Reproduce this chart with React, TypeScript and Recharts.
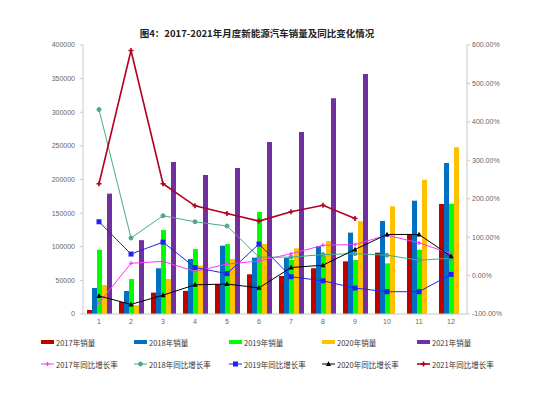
import React from "react";
import {
  ComposedChart,
  Bar,
  Line,
  XAxis,
  YAxis,
} from "recharts";

// months on the x axis
const months = ["1", "2", "3", "4", "5", "6", "7", "8", "9", "10", "11", "12"];

// monthly sales (vehicles)
const sales2017 = [6000, 17800, 31800, 34400, 44600, 59000, 56500, 68000, 78300, 91200, 118500, 163600];
const sales2018 = [38700, 34200, 68000, 81800, 101600, 83800, 83300, 101100, 121000, 138300, 168500, 224500];
const sales2019 = [95600, 52000, 125000, 96600, 104000, 151700, 80300, 86700, 80300, 75300, 95600, 164000];
const sales2020 = [43000, 13000, 52000, 71900, 81800, 104000, 97600, 108500, 138000, 160100, 199700, 247900];
const sales2021 = [179000, 109800, 226000, 206700, 217000, 255700, 270600, 321000, 357000, null, null, null];

// year-on-year growth (%)
const growth2017 = [-71.5, 32, 37, 10.6, 30, 38, 57, 78.7, 81, 105, 85, 57];
const growth2018 = [432, 97.7, 155.7, 140, 129, 48, 48, 54.6, 57, 53, 40, 45];
const growth2019 = [140, 56, 87, 21, 5, 82, -3, -13.7, -32.6, -42, -42, 3];
const growth2020 = [-53, -75, -51, -24, -22, -32, 21, 27, 68, 107, 107, 50];
const growth2021 = [239, 585.7, 239, 181.6, 161.7, 141.8, 166, 183, 148.7, null, null, null];

const leftTicks = [0, 50000, 100000, 150000, 200000, 250000, 300000, 350000, 400000];
const rightTicks = [-100, 0, 100, 200, 300, 400, 500, 600];

const data = months.map((m, i) => ({
  month: m,
  s2017: sales2017[i],
  s2018: sales2018[i],
  s2019: sales2019[i],
  s2020: sales2020[i],
  s2021: sales2021[i],
  g2017: growth2017[i],
  g2018: growth2018[i],
  g2019: growth2019[i],
  g2020: growth2020[i],
  g2021: growth2021[i],
}));

const FONT = '"Liberation Sans", "Noto Sans CJK SC", sans-serif';
const CJK = '"Noto Sans CJK SC", "Liberation Sans", sans-serif';

type Shape = "plus" | "circle" | "square" | "triangle" | "cross";

const marker = (shape: Shape, color: string, cx: number, cy: number, key?: any) => {
  if (shape === "circle") return <circle key={key} cx={cx} cy={cy} r={2} fill={color} stroke={color} />;
  if (shape === "square") return <rect key={key} x={cx - 2.5} y={cy - 2.5} width={5} height={5} fill={color} />;
  if (shape === "triangle")
    return <path key={key} d={`M${cx},${cy - 2.8}L${cx + 2.6},${cy + 2}L${cx - 2.6},${cy + 2}Z`} fill={color} />;
  if (shape === "cross")
    return (
      <path key={key} d={`M${cx - 2.5},${cy}h5M${cx},${cy - 2.5}v5`} stroke={color} strokeWidth={1.6} fill="none" />
    );
  return <path key={key} d={`M${cx - 2},${cy}h4M${cx},${cy - 2}v4`} stroke={color} strokeWidth={1.2} fill="none" />;
};

const dotFn = (shape: Shape, color: string) => (props: any) => {
  const { cx, cy, key, index } = props;
  if (cx == null || cy == null || isNaN(cy)) return <g key={key ?? index} />;
  return marker(shape, color, cx, cy, key ?? index);
};

const barSeries = [
  { key: "s2017", name: "2017年销量", color: "#C00000" },
  { key: "s2018", name: "2018年销量", color: "#0070C0" },
  { key: "s2019", name: "2019年销量", color: "#00FF00" },
  { key: "s2020", name: "2020年销量", color: "#FFC000" },
  { key: "s2021", name: "2021年销量", color: "#7030A0" },
];

const lineSeries: { key: string; name: string; color: string; shape: Shape; width: number }[] = [
  { key: "g2017", name: "2017年同比增长率", color: "#FF33FF", shape: "plus", width: 1 },
  { key: "g2018", name: "2018年同比增长率", color: "#4BA88A", shape: "circle", width: 1 },
  { key: "g2019", name: "2019年同比增长率", color: "#2222EE", shape: "square", width: 1 },
  { key: "g2020", name: "2020年同比增长率", color: "#000000", shape: "triangle", width: 1 },
  { key: "g2021", name: "2021年同比增长率", color: "#B00020", shape: "cross", width: 1.6 },
];

const legendX = [41, 134, 229, 322, 417];

const tickStyle = { fontSize: 7, fill: "#666", fontFamily: FONT };

const App = () => {
  return (
    <div style={{ position: "absolute", left: 0, top: 0, width: 558, height: 393, background: "#fff" }}>
      <div
        style={{
          position: "absolute",
          top: 26,
          left: 0,
          width: 514,
          textAlign: "center",
          fontFamily: CJK,
          fontWeight: "bold",
          fontSize: 9.5,
          color: "#222",
        }}
      >
        图4：2017-2021年月度新能源汽车销量及同比变化情况
      </div>
      <ComposedChart
        width={558}
        height={393}
        data={data}
        barSize={5}
        barGap={0}
        margin={{ top: 45, right: 0, bottom: 59, left: 0 }}
      >
        <XAxis
          dataKey="month"
          height={20}
          tickLine={false}
          tickSize={3}
          tickMargin={2}
          stroke="#C8C8C8"
          tick={tickStyle}
          interval={0}
        />
        <YAxis
          yAxisId="left"
          width={83}
          domain={[0, 400000]}
          ticks={leftTicks}
          tickSize={3}
          tickMargin={5}
          stroke="#C8C8C8"
          tick={tickStyle}
        />
        <YAxis
          yAxisId="right"
          orientation="right"
          width={91}
          domain={[-100, 600]}
          ticks={rightTicks}
          tickSize={3}
          tickMargin={2}
          stroke="#C8C8C8"
          tickFormatter={(v: number) => `${v.toFixed(2)}%`}
          tick={tickStyle}
        />
        {barSeries.map((s) => (
          <Bar key={s.key} yAxisId="left" dataKey={s.key} name={s.name} fill={s.color} isAnimationActive={false} />
        ))}
        {lineSeries.map((s) => (
          <Line
            key={s.key}
            yAxisId="right"
            dataKey={s.key}
            name={s.name}
            stroke={s.color}
            strokeWidth={s.width}
            dot={dotFn(s.shape, s.color)}
            activeDot={false}
            isAnimationActive={false}
          />
        ))}
      </ComposedChart>
      {[barSeries, lineSeries].map((row, r) => (
        <div key={r}>
          {row.map((s: any, i: number) => (
            <div
              key={s.key}
              style={{
                position: "absolute",
                left: legendX[i],
                top: r === 0 ? 336 : 358,
                height: 12,
                display: "flex",
                alignItems: "center",
                fontFamily: CJK,
                fontSize: 7.5,
                color: "#333",
                whiteSpace: "nowrap",
              }}
            >
              <svg width={14} height={8} style={{ marginRight: 1 }}>
                {r === 0 ? (
                  <rect x={0} y={2} width={13} height={4} fill={s.color} />
                ) : (
                  <>
                    <line x1={0} y1={4} x2={13} y2={4} stroke={s.color} strokeWidth={s.width} />
                    {marker(s.shape, s.color, 6.5, 4)}
                  </>
                )}
              </svg>
              {s.name}
            </div>
          ))}
        </div>
      ))}
    </div>
  );
};

export default App;
